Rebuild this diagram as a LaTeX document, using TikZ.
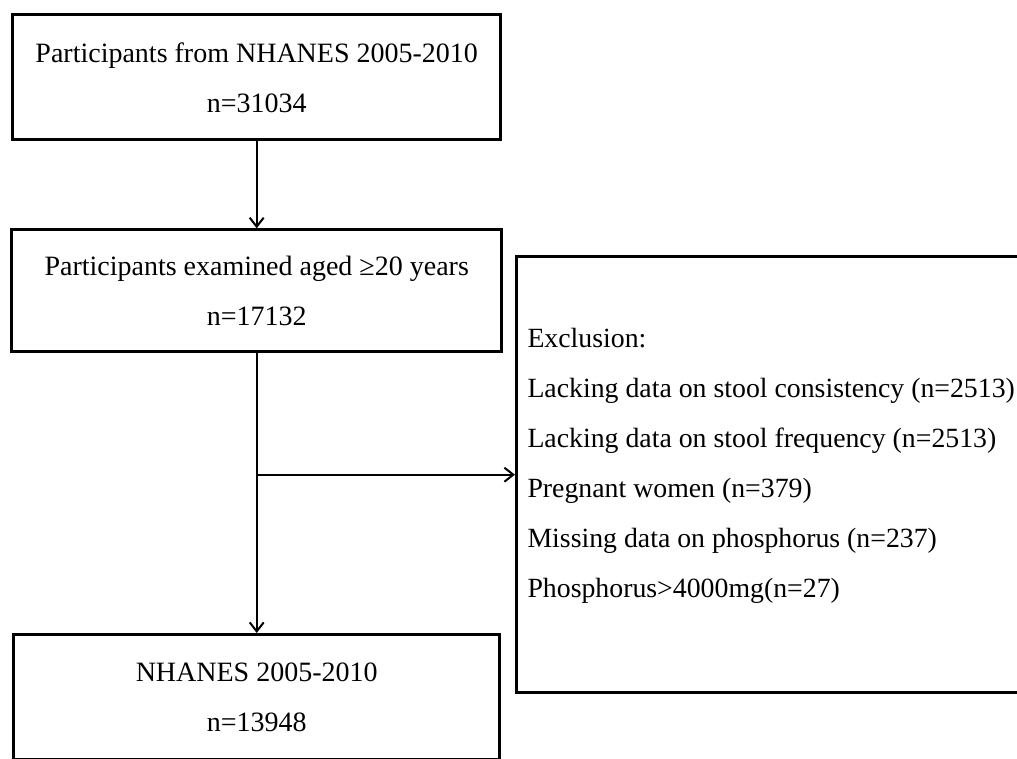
\documentclass[tikz,border=0pt]{standalone}
\usepackage{fontspec}
\setmainfont{Liberation Serif}
\usetikzlibrary{positioning,arrows.meta}

\begin{document}
\begin{tikzpicture}[x=1pt,y=-1pt,
    font=\fontsize{28}{50}\selectfont,
    box/.style={draw, line width=3pt, minimum width=488pt, minimum height=125pt,
      align=center, inner sep=0pt, execute at begin node={\rule{0pt}{32pt}}},
    exbox/.style={draw, line width=3pt, minimum height=436pt, text width=520pt,
      font=\fontsize{27.8}{50}\selectfont, align=flush left, inner xsep=11pt,
      execute at end node={\rule[-23pt]{0pt}{23pt}}},
    arr/.style={line width=2pt, -{Straight Barb[length=9pt,width=14pt]}}]
  \useasboundingbox (0,0) rectangle (1017,759);
  \clip (0,0) rectangle (1017,759);
  \node[box] (start) at (256.7,77.3) {Participants from NHANES 2005-2010\\n=31034};
  \node[box, minimum width=490pt, minimum height=121.7pt, below=87pt of start] (aged)
    {Participants examined aged ≥20 years\\n=17132};
  \node[box, minimum width=486pt, below=280pt of aged] (final) {NHANES 2005-2010\\n=13948};
  \node[exbox, anchor=west] (excl) at (515,474.7) {Exclusion:\\
    Lacking data on stool consistency (n=2513)\\
    Lacking data on stool frequency (n=2513)\\
    Pregnant women (n=379)\\
    Missing data on phosphorus (n=237)\\
    Phosphorus>4000mg(n=27)};
  \draw[arr] (start) -- (aged);
  \draw[arr] (aged) -- (final);
  \draw[arr] (aged.south |- excl.west) -- (excl.west);
\end{tikzpicture}
\end{document}
